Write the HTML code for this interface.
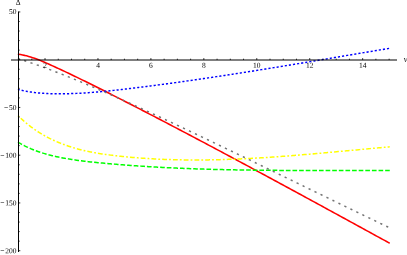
<!DOCTYPE html>
<html><head><meta charset="utf-8"><title>plot</title>
<style>
html,body{margin:0;padding:0;background:#fff;overflow:hidden}
svg{display:block;will-change:transform;transform:translateZ(0)}
text{font-family:"Liberation Serif",serif;font-size:7.5px;fill:#000;text-rendering:geometricPrecision}
</style></head><body>
<svg width="407" height="255" viewBox="0 0 407 255">
<rect width="407" height="255" fill="#fff"/>
<g fill="none" stroke-linejoin="round">
<path d="M18.6,54.30 L20.6,54.60 L22.6,54.96 L24.6,55.38 L26.6,55.87 L28.6,56.41 L30.6,57.00 L32.6,57.64 L34.6,58.32 L36.6,59.05 L38.6,59.81 L40.6,60.60 L42.6,61.43 L44.6,62.27 L46.6,63.14 L48.6,64.03 L50.6,64.93 L52.6,65.84 L54.6,66.76 L56.6,67.68 L58.6,68.61 L60.6,69.54 L62.6,70.48 L64.6,71.42 L66.6,72.37 L68.6,73.32 L70.6,74.27 L72.6,75.23 L74.6,76.19 L76.6,77.16 L78.6,78.13 L80.6,79.10 L82.6,80.08 L84.6,81.06 L86.6,82.04 L88.6,83.03 L90.6,84.02 L92.6,85.01 L94.6,86.01 L96.6,87.01 L98.6,88.01 L100.6,89.01 L102.6,90.02 L104.6,91.02 L106.6,92.03 L108.6,93.05 L110.6,94.06 L112.6,95.08 L114.6,96.09 L116.6,97.11 L118.6,98.13 L120.6,99.15 L122.6,100.18 L124.6,101.20 L126.6,102.23 L128.6,103.25 L130.6,104.28 L132.6,105.31 L134.6,106.34 L136.6,107.37 L138.6,108.40 L140.6,109.43 L142.6,110.46 L144.6,111.50 L146.6,112.53 L148.6,113.57 L150.6,114.60 L152.6,115.64 L154.6,116.68 L156.6,117.72 L158.6,118.76 L160.6,119.80 L162.6,120.85 L164.6,121.89 L166.6,122.93 L168.6,123.98 L170.6,125.02 L172.6,126.07 L174.6,127.12 L176.6,128.17 L178.6,129.22 L180.6,130.27 L182.6,131.32 L184.6,132.37 L186.6,133.43 L188.6,134.48 L190.6,135.53 L192.6,136.59 L194.6,137.65 L196.6,138.70 L198.6,139.76 L200.6,140.82 L202.6,141.88 L204.6,142.94 L206.6,144.00 L208.6,145.06 L210.6,146.12 L212.6,147.19 L214.6,148.25 L216.6,149.31 L218.6,150.38 L220.6,151.44 L222.6,152.51 L224.6,153.58 L226.6,154.65 L228.6,155.71 L230.6,156.78 L232.6,157.85 L234.6,158.92 L236.6,160.00 L238.6,161.07 L240.6,162.14 L242.6,163.21 L244.6,164.29 L246.6,165.36 L248.6,166.43 L250.6,167.51 L252.6,168.59 L254.6,169.66 L256.6,170.74 L258.6,171.82 L260.6,172.89 L262.6,173.97 L264.6,175.05 L266.6,176.13 L268.6,177.21 L270.6,178.29 L272.6,179.37 L274.6,180.45 L276.6,181.54 L278.6,182.62 L280.6,183.70 L282.6,184.78 L284.6,185.87 L286.6,186.95 L288.6,188.04 L290.6,189.12 L292.6,190.21 L294.6,191.29 L296.6,192.38 L298.6,193.47 L300.6,194.55 L302.6,195.64 L304.6,196.73 L306.6,197.82 L308.6,198.90 L310.6,199.99 L312.6,201.08 L314.6,202.17 L316.6,203.26 L318.6,204.35 L320.6,205.44 L322.6,206.53 L324.6,207.62 L326.6,208.71 L328.6,209.81 L330.6,210.90 L332.6,211.99 L334.6,213.08 L336.6,214.17 L338.6,215.27 L340.6,216.36 L342.6,217.45 L344.6,218.55 L346.6,219.64 L348.6,220.73 L350.6,221.83 L352.6,222.92 L354.6,224.02 L356.6,225.11 L358.6,226.20 L360.6,227.30 L362.6,228.39 L364.6,229.49 L366.6,230.58 L368.6,231.68 L370.6,232.77 L372.6,233.87 L374.6,234.96 L376.6,236.06 L378.6,237.16 L380.6,238.25 L382.6,239.35 L384.6,240.44 L386.6,241.54 L388.6,242.63 L389.0,242.85" stroke="#ff0000" stroke-width="1.55" stroke-linecap="square"/>
<path d="M18.6,142.55 L20.6,143.71 L22.6,144.81 L24.6,145.85 L26.6,146.83 L28.6,147.76 L30.6,148.65 L32.6,149.48 L34.6,150.27 L36.6,151.02 L38.6,151.73 L40.6,152.40 L42.6,153.03 L44.6,153.63 L46.6,154.20 L48.6,154.75 L50.6,155.26 L52.6,155.76 L54.6,156.23 L56.6,156.68 L58.6,157.10 L60.6,157.51 L62.6,157.90 L64.6,158.27 L66.6,158.62 L68.6,158.96 L70.6,159.28 L72.6,159.59 L74.6,159.88 L76.6,160.17 L78.6,160.44 L80.6,160.70 L82.6,160.95 L84.6,161.20 L86.6,161.43 L88.6,161.67 L90.6,161.89 L92.6,162.11 L94.6,162.32 L96.6,162.53 L98.6,162.73 L100.6,162.93 L102.6,163.12 L104.6,163.31 L106.6,163.49 L108.6,163.67 L110.6,163.84 L112.6,164.02 L114.6,164.18 L116.6,164.35 L118.6,164.51 L120.6,164.67 L122.6,164.83 L124.6,164.98 L126.6,165.13 L128.6,165.28 L130.6,165.43 L132.6,165.57 L134.6,165.71 L136.6,165.85 L138.6,165.99 L140.6,166.12 L142.6,166.25 L144.6,166.38 L146.6,166.51 L148.6,166.63 L150.6,166.75 L152.6,166.87 L154.6,166.98 L156.6,167.10 L158.6,167.21 L160.6,167.32 L162.6,167.42 L164.6,167.53 L166.6,167.63 L168.6,167.72 L170.6,167.82 L172.6,167.92 L174.6,168.01 L176.6,168.10 L178.6,168.19 L180.6,168.27 L182.6,168.35 L184.6,168.44 L186.6,168.51 L188.6,168.59 L190.6,168.67 L192.6,168.74 L194.6,168.81 L196.6,168.88 L198.6,168.95 L200.6,169.01 L202.6,169.08 L204.6,169.14 L206.6,169.20 L208.6,169.26 L210.6,169.31 L212.6,169.37 L214.6,169.42 L216.6,169.47 L218.6,169.52 L220.6,169.57 L222.6,169.62 L224.6,169.66 L226.6,169.70 L228.6,169.75 L230.6,169.79 L232.6,169.83 L234.6,169.86 L236.6,169.90 L238.6,169.93 L240.6,169.97 L242.6,170.00 L244.6,170.03 L246.6,170.06 L248.6,170.09 L250.6,170.12 L252.6,170.14 L254.6,170.17 L256.6,170.19 L258.6,170.21 L260.6,170.23 L262.6,170.26 L264.6,170.27 L266.6,170.29 L268.6,170.31 L270.6,170.33 L272.6,170.34 L274.6,170.36 L276.6,170.37 L278.6,170.38 L280.6,170.40 L282.6,170.41 L284.6,170.42 L286.6,170.43 L288.6,170.44 L290.6,170.45 L292.6,170.45 L294.6,170.46 L296.6,170.47 L298.6,170.48 L300.6,170.48 L302.6,170.49 L304.6,170.49 L306.6,170.50 L308.6,170.50 L310.6,170.50 L312.6,170.51 L314.6,170.51 L316.6,170.51 L318.6,170.51 L320.6,170.51 L322.6,170.52 L324.6,170.52 L326.6,170.52 L328.6,170.52 L330.6,170.52 L332.6,170.52 L334.6,170.52 L336.6,170.52 L338.6,170.52 L340.6,170.52 L342.6,170.52 L344.6,170.53 L346.6,170.53 L348.6,170.53 L350.6,170.53 L352.6,170.53 L354.6,170.53 L356.6,170.53 L358.6,170.53 L360.6,170.54 L362.6,170.54 L364.6,170.54 L366.6,170.55 L368.6,170.55 L370.6,170.55 L372.6,170.56 L374.6,170.56 L376.6,170.57 L378.6,170.57 L380.6,170.58 L382.6,170.59 L384.6,170.59 L386.6,170.60 L388.6,170.61 L389.0,170.61" stroke="#00ff00" stroke-width="1.5" stroke-dasharray="3.15 3.47" stroke-linecap="square"/>
<path d="M18.6,89.59 L20.6,90.08 L22.6,90.53 L24.6,90.94 L26.6,91.33 L28.6,91.67 L30.6,91.99 L32.6,92.27 L34.6,92.53 L36.6,92.76 L38.6,92.96 L40.6,93.13 L42.6,93.28 L44.6,93.41 L46.6,93.52 L48.6,93.61 L50.6,93.68 L52.6,93.73 L54.6,93.77 L56.6,93.79 L58.6,93.80 L60.6,93.79 L62.6,93.78 L64.6,93.75 L66.6,93.71 L68.6,93.67 L70.6,93.61 L72.6,93.54 L74.6,93.47 L76.6,93.38 L78.6,93.28 L80.6,93.18 L82.6,93.07 L84.6,92.95 L86.6,92.82 L88.6,92.68 L90.6,92.53 L92.6,92.38 L94.6,92.22 L96.6,92.06 L98.6,91.89 L100.6,91.71 L102.6,91.52 L104.6,91.33 L106.6,91.14 L108.6,90.93 L110.6,90.73 L112.6,90.52 L114.6,90.30 L116.6,90.08 L118.6,89.86 L120.6,89.63 L122.6,89.40 L124.6,89.17 L126.6,88.93 L128.6,88.69 L130.6,88.45 L132.6,88.21 L134.6,87.96 L136.6,87.72 L138.6,87.47 L140.6,87.22 L142.6,86.97 L144.6,86.71 L146.6,86.46 L148.6,86.20 L150.6,85.94 L152.6,85.68 L154.6,85.42 L156.6,85.16 L158.6,84.90 L160.6,84.63 L162.6,84.36 L164.6,84.09 L166.6,83.82 L168.6,83.55 L170.6,83.28 L172.6,83.01 L174.6,82.73 L176.6,82.45 L178.6,82.18 L180.6,81.90 L182.6,81.62 L184.6,81.33 L186.6,81.05 L188.6,80.76 L190.6,80.48 L192.6,80.19 L194.6,79.90 L196.6,79.61 L198.6,79.32 L200.6,79.03 L202.6,78.74 L204.6,78.44 L206.6,78.15 L208.6,77.85 L210.6,77.55 L212.6,77.25 L214.6,76.96 L216.6,76.65 L218.6,76.35 L220.6,76.05 L222.6,75.75 L224.6,75.44 L226.6,75.13 L228.6,74.83 L230.6,74.52 L232.6,74.21 L234.6,73.90 L236.6,73.59 L238.6,73.28 L240.6,72.97 L242.6,72.65 L244.6,72.34 L246.6,72.02 L248.6,71.71 L250.6,71.39 L252.6,71.08 L254.6,70.76 L256.6,70.44 L258.6,70.12 L260.6,69.80 L262.6,69.48 L264.6,69.16 L266.6,68.83 L268.6,68.51 L270.6,68.19 L272.6,67.86 L274.6,67.54 L276.6,67.21 L278.6,66.89 L280.6,66.56 L282.6,66.23 L284.6,65.90 L286.6,65.57 L288.6,65.25 L290.6,64.92 L292.6,64.59 L294.6,64.26 L296.6,63.93 L298.6,63.59 L300.6,63.26 L302.6,62.93 L304.6,62.60 L306.6,62.26 L308.6,61.93 L310.6,61.60 L312.6,61.26 L314.6,60.93 L316.6,60.59 L318.6,60.26 L320.6,59.92 L322.6,59.59 L324.6,59.25 L326.6,58.92 L328.6,58.58 L330.6,58.24 L332.6,57.91 L334.6,57.57 L336.6,57.23 L338.6,56.90 L340.6,56.56 L342.6,56.22 L344.6,55.89 L346.6,55.55 L348.6,55.21 L350.6,54.87 L352.6,54.53 L354.6,54.20 L356.6,53.86 L358.6,53.52 L360.6,53.18 L362.6,52.85 L364.6,52.51 L366.6,52.17 L368.6,51.83 L370.6,51.50 L372.6,51.16 L374.6,50.82 L376.6,50.49 L378.6,50.15 L380.6,49.81 L382.6,49.48 L384.6,49.14 L386.6,48.80 L388.6,48.47 L389.0,48.40" stroke="#0000ff" stroke-width="1.45" stroke-dasharray="0.7 3.445" stroke-dashoffset="0.3" stroke-linecap="square"/>
<path d="M18.6,116.17 L20.6,118.08 L22.6,119.92 L24.6,121.68 L26.6,123.37 L28.6,124.99 L30.6,126.54 L32.6,128.02 L34.6,129.45 L36.6,130.81 L38.6,132.11 L40.6,133.36 L42.6,134.56 L44.6,135.70 L46.6,136.80 L48.6,137.84 L50.6,138.84 L52.6,139.80 L54.6,140.72 L56.6,141.60 L58.6,142.45 L60.6,143.26 L62.6,144.04 L64.6,144.78 L66.6,145.50 L68.6,146.18 L70.6,146.83 L72.6,147.46 L74.6,148.06 L76.6,148.63 L78.6,149.17 L80.6,149.69 L82.6,150.19 L84.6,150.66 L86.6,151.11 L88.6,151.54 L90.6,151.94 L92.6,152.33 L94.6,152.70 L96.6,153.06 L98.6,153.39 L100.6,153.71 L102.6,154.02 L104.6,154.31 L106.6,154.59 L108.6,154.86 L110.6,155.12 L112.6,155.36 L114.6,155.60 L116.6,155.83 L118.6,156.06 L120.6,156.27 L122.6,156.48 L124.6,156.68 L126.6,156.88 L128.6,157.07 L130.6,157.25 L132.6,157.43 L134.6,157.60 L136.6,157.76 L138.6,157.92 L140.6,158.07 L142.6,158.21 L144.6,158.35 L146.6,158.48 L148.6,158.61 L150.6,158.73 L152.6,158.84 L154.6,158.95 L156.6,159.05 L158.6,159.15 L160.6,159.24 L162.6,159.33 L164.6,159.41 L166.6,159.48 L168.6,159.55 L170.6,159.61 L172.6,159.67 L174.6,159.73 L176.6,159.77 L178.6,159.82 L180.6,159.85 L182.6,159.89 L184.6,159.91 L186.6,159.94 L188.6,159.95 L190.6,159.97 L192.6,159.98 L194.6,159.98 L196.6,159.98 L198.6,159.97 L200.6,159.96 L202.6,159.95 L204.6,159.93 L206.6,159.90 L208.6,159.88 L210.6,159.84 L212.6,159.81 L214.6,159.77 L216.6,159.72 L218.6,159.67 L220.6,159.62 L222.6,159.56 L224.6,159.50 L226.6,159.44 L228.6,159.37 L230.6,159.30 L232.6,159.23 L234.6,159.15 L236.6,159.06 L238.6,158.98 L240.6,158.89 L242.6,158.80 L244.6,158.70 L246.6,158.60 L248.6,158.50 L250.6,158.40 L252.6,158.29 L254.6,158.18 L256.6,158.06 L258.6,157.95 L260.6,157.83 L262.6,157.70 L264.6,157.58 L266.6,157.45 L268.6,157.32 L270.6,157.19 L272.6,157.05 L274.6,156.91 L276.6,156.77 L278.6,156.63 L280.6,156.49 L282.6,156.34 L284.6,156.19 L286.6,156.04 L288.6,155.89 L290.6,155.73 L292.6,155.57 L294.6,155.42 L296.6,155.25 L298.6,155.09 L300.6,154.93 L302.6,154.76 L304.6,154.60 L306.6,154.43 L308.6,154.26 L310.6,154.09 L312.6,153.91 L314.6,153.74 L316.6,153.56 L318.6,153.39 L320.6,153.21 L322.6,153.03 L324.6,152.85 L326.6,152.67 L328.6,152.49 L330.6,152.31 L332.6,152.13 L334.6,151.94 L336.6,151.76 L338.6,151.57 L340.6,151.39 L342.6,151.20 L344.6,151.02 L346.6,150.83 L348.6,150.64 L350.6,150.46 L352.6,150.27 L354.6,150.08 L356.6,149.90 L358.6,149.71 L360.6,149.52 L362.6,149.33 L364.6,149.15 L366.6,148.96 L368.6,148.77 L370.6,148.59 L372.6,148.40 L374.6,148.22 L376.6,148.03 L378.6,147.85 L380.6,147.67 L382.6,147.48 L384.6,147.30 L386.6,147.12 L388.6,146.94 L389.0,146.90" stroke="#ffff00" stroke-width="1.5" stroke-dasharray="0.3 3.58 3.3 3.58" stroke-dashoffset="0.15" stroke-linecap="square"/>
<path d="M18.6,58.77 L20.6,59.41 L22.6,60.05 L24.6,60.71 L26.6,61.37 L28.6,62.04 L30.6,62.72 L32.6,63.41 L34.6,64.10 L36.6,64.80 L38.6,65.51 L40.6,66.23 L42.6,66.95 L44.6,67.68 L46.6,68.42 L48.6,69.16 L50.6,69.91 L52.6,70.66 L54.6,71.42 L56.6,72.19 L58.6,72.97 L60.6,73.74 L62.6,74.53 L64.6,75.32 L66.6,76.12 L68.6,76.92 L70.6,77.72 L72.6,78.53 L74.6,79.35 L76.6,80.17 L78.6,80.99 L80.6,81.82 L82.6,82.66 L84.6,83.49 L86.6,84.34 L88.6,85.18 L90.6,86.03 L92.6,86.88 L94.6,87.74 L96.6,88.60 L98.6,89.46 L100.6,90.33 L102.6,91.20 L104.6,92.07 L106.6,92.94 L108.6,93.82 L110.6,94.70 L112.6,95.58 L114.6,96.47 L116.6,97.35 L118.6,98.24 L120.6,99.13 L122.6,100.03 L124.6,100.92 L126.6,101.82 L128.6,102.72 L130.6,103.63 L132.6,104.53 L134.6,105.44 L136.6,106.35 L138.6,107.26 L140.6,108.17 L142.6,109.09 L144.6,110.01 L146.6,110.92 L148.6,111.84 L150.6,112.77 L152.6,113.69 L154.6,114.62 L156.6,115.55 L158.6,116.48 L160.6,117.41 L162.6,118.34 L164.6,119.27 L166.6,120.21 L168.6,121.15 L170.6,122.09 L172.6,123.03 L174.6,123.97 L176.6,124.91 L178.6,125.86 L180.6,126.80 L182.6,127.75 L184.6,128.70 L186.6,129.65 L188.6,130.60 L190.6,131.55 L192.6,132.50 L194.6,133.45 L196.6,134.41 L198.6,135.36 L200.6,136.32 L202.6,137.28 L204.6,138.23 L206.6,139.19 L208.6,140.15 L210.6,141.11 L212.6,142.07 L214.6,143.03 L216.6,144.00 L218.6,144.96 L220.6,145.92 L222.6,146.88 L224.6,147.85 L226.6,148.81 L228.6,149.78 L230.6,150.74 L232.6,151.71 L234.6,152.68 L236.6,153.64 L238.6,154.61 L240.6,155.58 L242.6,156.55 L244.6,157.51 L246.6,158.48 L248.6,159.45 L250.6,160.42 L252.6,161.39 L254.6,162.36 L256.6,163.33 L258.6,164.30 L260.6,165.27 L262.6,166.24 L264.6,167.21 L266.6,168.19 L268.6,169.16 L270.6,170.13 L272.6,171.10 L274.6,172.07 L276.6,173.04 L278.6,174.02 L280.6,174.99 L282.6,175.96 L284.6,176.94 L286.6,177.91 L288.6,178.88 L290.6,179.85 L292.6,180.83 L294.6,181.80 L296.6,182.77 L298.6,183.75 L300.6,184.72 L302.6,185.69 L304.6,186.66 L306.6,187.64 L308.6,188.61 L310.6,189.58 L312.6,190.56 L314.6,191.53 L316.6,192.50 L318.6,193.47 L320.6,194.45 L322.6,195.42 L324.6,196.39 L326.6,197.36 L328.6,198.33 L330.6,199.30 L332.6,200.28 L334.6,201.25 L336.6,202.22 L338.6,203.19 L340.6,204.16 L342.6,205.13 L344.6,206.10 L346.6,207.07 L348.6,208.04 L350.6,209.00 L352.6,209.97 L354.6,210.94 L356.6,211.91 L358.6,212.87 L360.6,213.84 L362.6,214.81 L364.6,215.77 L366.6,216.74 L368.6,217.70 L370.6,218.67 L372.6,219.63 L374.6,220.60 L376.6,221.56 L378.6,222.52 L380.6,223.48 L382.6,224.45 L384.6,225.41 L386.6,226.37 L388.6,227.33 L389.0,227.52" stroke="#747474" stroke-width="1.5" stroke-dasharray="0.7 5.94" stroke-dashoffset="0.05" stroke-linecap="square"/>
</g>
<g fill="none" stroke="#000" stroke-width="1">
<path d="M11,60.0H397"/>
<path d="M18.5,11.5V252"/>
<path d="M18.55,60.00v-1.3M31.79,60.00v-1.3M45.02,60.00v-1.9M58.25,60.00v-1.3M71.49,60.00v-1.3M84.72,60.00v-1.3M97.96,60.00v-1.9M111.19,60.00v-1.3M124.43,60.00v-1.3M137.66,60.00v-1.3M150.90,60.00v-1.9M164.13,60.00v-1.3M177.37,60.00v-1.3M190.61,60.00v-1.3M203.84,60.00v-1.9M217.07,60.00v-1.3M230.31,60.00v-1.3M243.55,60.00v-1.3M256.78,60.00v-1.9M270.01,60.00v-1.3M283.25,60.00v-1.3M296.49,60.00v-1.3M309.72,60.00v-1.9M322.95,60.00v-1.3M336.19,60.00v-1.3M349.43,60.00v-1.3M362.66,60.00v-1.9M375.89,60.00v-1.3M389.13,60.00v-1.3M18.50,250.70h1.8M18.50,241.15h1.2M18.50,231.60h1.2M18.50,222.05h1.2M18.50,212.50h1.2M18.50,202.95h1.8M18.50,193.40h1.2M18.50,183.85h1.2M18.50,174.30h1.2M18.50,164.75h1.2M18.50,155.20h1.8M18.50,145.65h1.2M18.50,136.10h1.2M18.50,126.55h1.2M18.50,117.00h1.2M18.50,107.45h1.8M18.50,97.90h1.2M18.50,88.35h1.2M18.50,78.80h1.2M18.50,69.25h1.2M18.50,59.70h1.8M18.50,50.15h1.2M18.50,40.60h1.2M18.50,31.05h1.2M18.50,21.50h1.2M18.50,11.95h1.8" stroke-width="0.8"/>
</g>
<g>
<text x="45.0" y="67.8" text-anchor="middle" transform="rotate(0.1 45.0 67.8)">2</text>
<text x="98.0" y="67.8" text-anchor="middle" transform="rotate(0.1 98.0 67.8)">4</text>
<text x="150.9" y="67.8" text-anchor="middle" transform="rotate(0.1 150.9 67.8)">6</text>
<text x="203.8" y="67.8" text-anchor="middle" transform="rotate(0.1 203.8 67.8)">8</text>
<text x="256.8" y="67.8" text-anchor="middle" transform="rotate(0.1 256.8 67.8)">10</text>
<text x="309.7" y="67.8" text-anchor="middle" transform="rotate(0.1 309.7 67.8)">12</text>
<text x="362.7" y="67.8" text-anchor="middle" transform="rotate(0.1 362.7 67.8)">14</text>
<text x="16.6" y="13.9" text-anchor="end" transform="rotate(0.1 16.6 13.9)">50</text>
<text x="16.6" y="110.0" text-anchor="end" transform="rotate(0.1 16.6 110.0)">−<tspan dx="0.95">50</tspan></text>
<text x="16.6" y="157.7" text-anchor="end" transform="rotate(0.1 16.6 157.7)">−<tspan dx="0.95">100</tspan></text>
<text x="16.6" y="205.4" text-anchor="end" transform="rotate(0.1 16.6 205.4)">−<tspan dx="0.95">150</tspan></text>
<text x="16.6" y="253.2" text-anchor="end" transform="rotate(0.1 16.6 253.2)">−<tspan dx="0.95">200</tspan></text>
<text x="18.2" y="4.7" text-anchor="middle" transform="rotate(0.1 18.2 4.7)" style="font-size:7.5px">Δ</text>
<text x="403.7" y="62" transform="rotate(0.1 403.7 62)" style="font-style:italic;font-size:8.5px">ν</text>
</g>
</svg>
</body></html>
